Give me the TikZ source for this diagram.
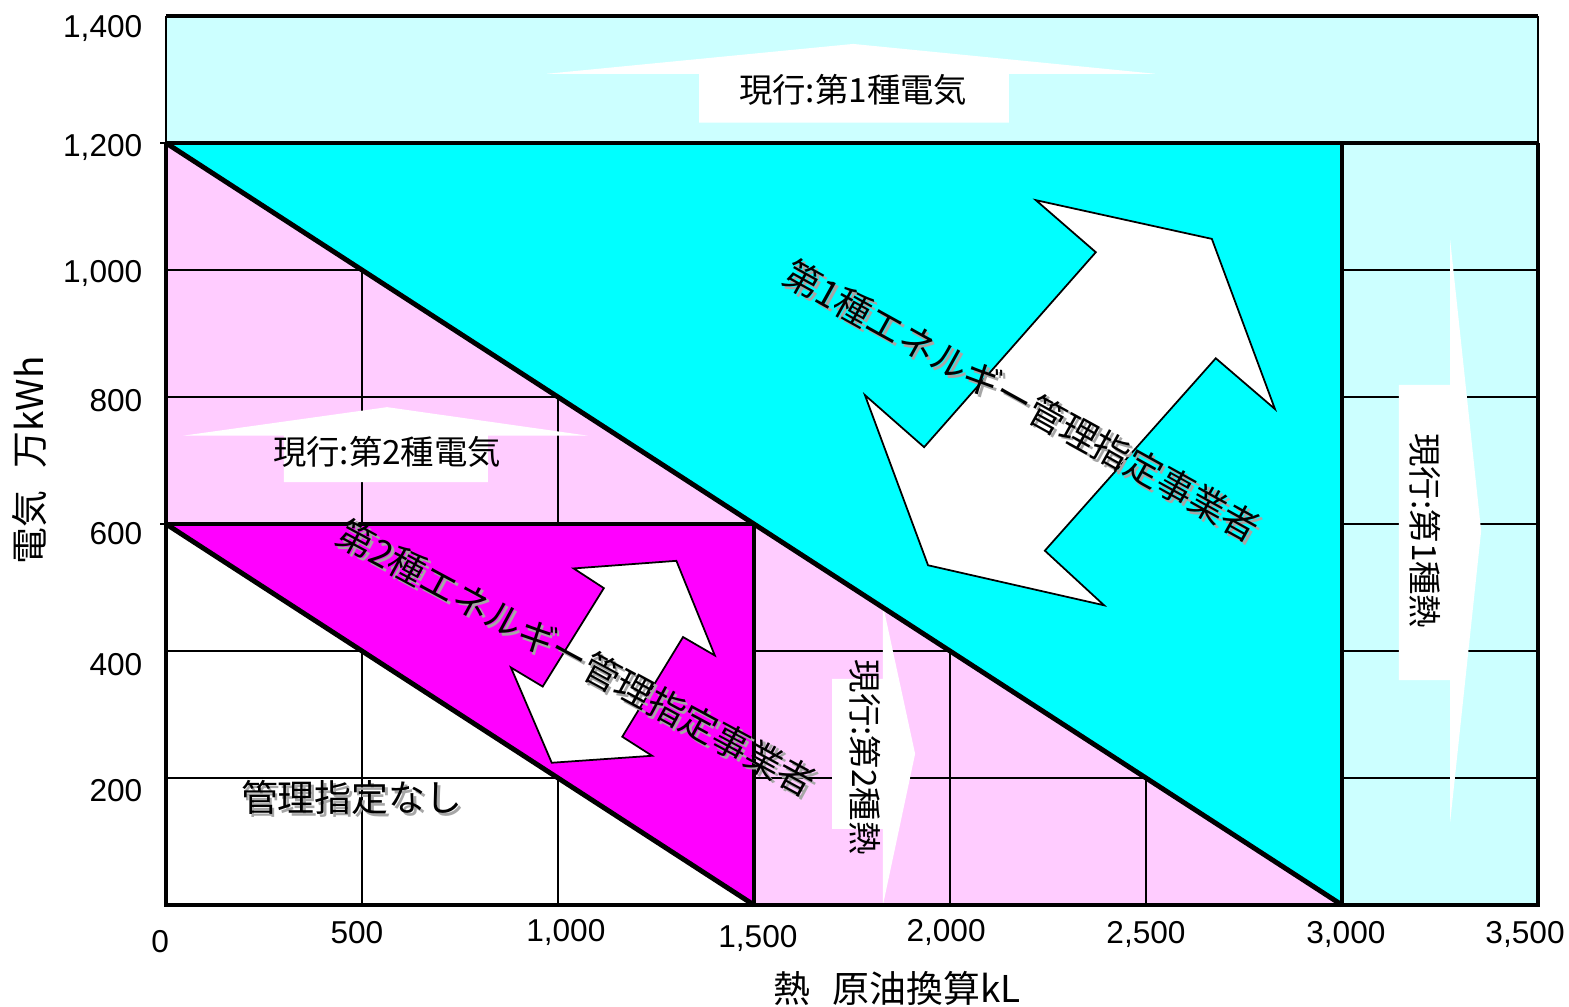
\documentclass[tikz,border=0pt]{standalone}
\usepackage{fontspec}
\setmainfont{Liberation Sans}
\newfontfamily\jp{Noto Sans CJK JP}
\definecolor{paleCyan}{HTML}{CCFFFF}
\definecolor{fullCyan}{HTML}{00FFFF}
\definecolor{palePink}{HTML}{FFCCFF}
\definecolor{fullMagenta}{HTML}{FF00FF}
\tikzset{
thickline/.style={line width=1.4pt},
midline/.style={line width=1pt},
gridline/.style={line width=0.7pt},
blockarrow/.style={fill=white},
doublearrow/.style={fill=white,draw=black,line width=0.5pt},
arrowtext/.style={inner sep=0pt,font=\jp\fontsize{9.5}{11}\selectfont},
bigtext/.style={inner sep=0pt,font=\jp\fontsize{10.5}{12}\selectfont},
shadowtext/.style={text=black!35,xshift=0.8pt,yshift=-0.8pt},
ticklabel/.style={inner sep=0pt,font=\fontsize{9}{10}\selectfont},
axistitle/.style={inner sep=0pt,font=\jp\fontsize{10.5}{12}\selectfont}
}

\begin{document}
\begin{tikzpicture}[x=0.392cm,y=0.635cm]
  \useasboundingbox (-1.66cm,-1.02cm) rectangle (14.03cm,9.05cm);

  % areas
  \fill[paleCyan] (0,0) rectangle (35,14);
  \fill[palePink] (0,0) -- (0,12) -- (30,0) -- cycle;
  \fill[white] (0,0) -- (0,6) -- (15,0) -- cycle;
  \foreach \x in {5,10,...,30}
    \draw[gridline] (\x,0) -- (\x,12);
  \foreach \y in {2,4,...,10}
    \draw[gridline] (0,\y) -- (35,\y);
  \fill[fullCyan] (0,12) -- (30,12) -- (30,0) -- cycle;
  \fill[fullMagenta] (0,6) -- (15,6) -- (15,0) -- cycle;

  % "current" arrows
  \fill[blockarrow] (9.72,13.09) -- (17.53,13.56) -- (25.23,13.09) -- (21.50,13.09)
    -- (21.50,12.32) -- (13.60,12.32) -- (13.60,13.09) -- cycle;
  \fill[blockarrow] (0.43,7.39) -- (5.64,7.84) -- (10.77,7.39) -- (8.21,7.39)
    -- (8.21,6.66) -- (3.01,6.66) -- (3.01,7.39) -- cycle;
  \fill[blockarrow] (32.76,10.47) -- (33.55,5.89) -- (32.76,1.31) -- (32.76,3.54)
    -- (31.45,3.54) -- (31.45,8.19) -- (32.76,8.19) -- cycle;
  \fill[blockarrow] (18.29,4.72) -- (19.11,2.38) -- (18.29,0) -- (18.29,1.20)
    -- (16.99,1.20) -- (16.99,3.56) -- (18.29,3.56) -- cycle;

  \node[arrowtext] (elec1) at (17.53,12.83) {現行:第1種電気};
  \node[arrowtext] (elec2) at (5.64,7.13) {現行:第2種電気};
  \node[arrowtext,rotate=-90] (heat1) at (32.12,5.89) {現行:第1種熱};
  \node[arrowtext,rotate=-90] (heat2) at (17.83,2.33) {現行:第2種熱};

  % double arrows
  \draw[doublearrow] (22.19,11.10) -- (26.68,10.49) -- (28.29,7.81) -- (26.78,8.61)
    -- (22.42,5.58) -- (23.93,4.72) -- (19.44,5.35) -- (17.83,8.03)
    -- (19.34,7.21) -- (23.72,10.28) -- cycle;
  \draw[doublearrow] (10.40,5.30) -- (13.02,5.42) -- (14.00,3.93) -- (13.19,4.22)
    -- (11.64,2.65) -- (12.40,2.35) -- (9.84,2.24) -- (8.80,3.74)
    -- (9.61,3.44) -- (11.17,4.99) -- cycle;

  % frame and borders
  \draw[gridline] (0,12) -- (0,14);
  \draw[gridline] (35,12) -- (35,14);
  \draw[thickline] (0,14) -- (35,14);
  \draw[midline] (0,12) -- (35,12);
  \draw[thickline] (0,12) -- (0,0) -- (35,0) -- (35,12);
  \draw[thickline] (0,12) -- (30,0);
  \draw[thickline] (30,12) -- (30,0);
  \draw[thickline] (0,6) -- (15,6) -- (15,0);
  \draw[thickline] (0,6) -- (15,0);
  \draw[gridline] (-0.15,12) -- (0,12);
  \draw[gridline] (-0.15,6) -- (0,6);

  % labels with shadow
  \node[bigtext,shadowtext,rotate=-29] (big1s) at (21.84,7.94) {第1種エネルギー管理指定事業者};
  \node[bigtext,rotate=-29] (big1) at (21.84,7.94) {第1種エネルギー管理指定事業者};
  \node[bigtext,shadowtext,rotate=-28.4] (big2s) at (10.48,3.89) {第2種エネルギー管理指定事業者};
  \node[bigtext,rotate=-28.4] (big2) at (10.48,3.89) {第2種エネルギー管理指定事業者};
  \node[bigtext,shadowtext] (nones) at (4.74,1.69) {管理指定なし};
  \node[bigtext] (none) at (4.74,1.69) {管理指定なし};

  % axes
  \foreach \y/\t/\d in {2/200/13,4/400/14,6/600/10,8/800/4,10/{1,000}/3,12/{1,200}/4,14/{1,400}/12}
    \node[ticklabel,anchor=east] (ylab\y) at ([xshift=-0.23cm,yshift=-\d*0.01cm]0,\y) {\t};
  \foreach \x/\t/\y in {-0.15/0/-0.58,4.87/500/-0.44,10.2/{1,000}/-0.44,15.10/{1,500}/-0.52,
      19.9/{2,000}/-0.44,25.0/{2,500}/-0.47,30.1/{3,000}/-0.47,34.67/{3,500}/-0.47}
    \node[ticklabel] (xlab\t) at (\x,\y) {\t};
  \node[axistitle] (xtitle) at (18.65,-1.31) {熱\hspace{0.6em}原油換算kL};
  \node[axistitle,rotate=90] (ytitle) at (-3.47,7.0) {電気\hspace{0.6em}万kWh};
\end{tikzpicture}
\end{document}
